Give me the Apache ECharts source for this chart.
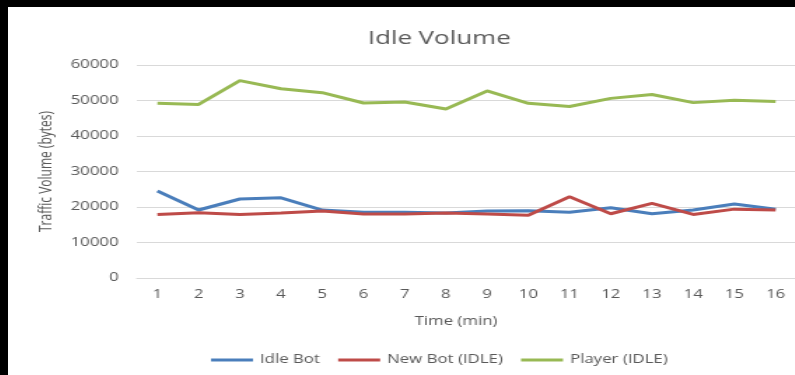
<!DOCTYPE html>
<html>
<head>
<meta charset="utf-8">
<script src="https://cdn.jsdelivr.net/npm/echarts@6/dist/echarts.min.js"></script>
<style>
  html, body { margin: 0; padding: 0; background: #000; overflow: hidden; }
  body { width: 795px; height: 375px; position: relative; }
  /* chart is drawn at a narrower width and widened horizontally */
  #chart {
    position: absolute; left: 8px; top: 7px;
    width: 563px; height: 368px;
    transform: scaleX(1.4); transform-origin: 0 0;
  }
</style>
</head>
<body>
<div id="chart"></div>
<script>
// Time in minutes
const minutes = ['1','2','3','4','5','6','7','8','9','10','11','12','13','14','15','16'];

// Traffic volume in bytes per minute
const idleBot = [24500, 19150, 22250, 22600, 19150, 18500, 18500, 18300, 18900, 18950, 18500, 19800, 18100, 19150, 20850, 19350];
const newBotIdle = [17900, 18400, 17900, 18300, 18900, 18000, 18000, 18300, 18000, 17650, 22900, 18100, 21000, 17900, 19400, 19150];
const playerIdle = [49200, 48900, 55600, 53300, 52200, 49300, 49600, 47600, 52700, 49200, 48300, 50600, 51700, 49400, 50100, 49700];

const seriesNames = ['Idle Bot', 'New Bot (IDLE)', 'Player (IDLE)'];
const seriesColors = ['#4a7ebb', '#be4b48', '#98b954'];

const yTicks = { min: 0, max: 60000, step: 10000 };

const textColor = '#595959';
const font = 'Open Sans';

const chart = echarts.init(document.getElementById('chart'), null, { renderer: 'canvas' });

function lineSeries(name, data, color) {
  return {
    name: name,
    type: 'line',
    data: data,
    symbol: 'none',
    smooth: false,
    lineStyle: { color: color, width: 3 },
    itemStyle: { color: color },
    emphasis: { disabled: true }
  };
}

chart.setOption({
  animation: false,
  backgroundColor: '#ffffff',
  title: {
    text: 'Idle Volume',
    left: 303,
    top: 17,
    textAlign: 'center',
    textStyle: { fontFamily: font, fontSize: 18.5, fontWeight: 'normal', color: textColor }
  },
  legend: {
    data: seriesNames,
    left: 140,
    top: 342,
    icon: 'rect',
    itemWidth: 30,
    itemHeight: 3,
    itemGap: 13,
    textStyle: { fontFamily: font, fontSize: 12, color: textColor }
  },
  grid: { left: 92, top: 58, width: 474, height: 213, containLabel: false },
  xAxis: {
    type: 'category',
    data: minutes,
    boundaryGap: true,
    name: 'Time (min)',
    nameLocation: 'middle',
    nameGap: 38,
    nameTextStyle: { fontFamily: font, fontSize: 12, color: textColor, padding: [0, 15, 0, 0] },
    axisLine: { show: true, lineStyle: { color: '#d9d9d9', width: 1 } },
    axisTick: { show: false },
    axisLabel: { fontFamily: font, fontSize: 12, color: textColor, margin: 11 },
    splitLine: { show: false }
  },
  yAxis: {
    type: 'value',
    min: yTicks.min,
    max: yTicks.max,
    interval: yTicks.step,
    name: 'Traffic Volume (bytes)',
    nameLocation: 'middle',
    nameRotate: 90,
    nameGap: 54,
    nameTextStyle: { fontFamily: font, fontSize: 12, color: textColor },
    axisLine: { show: false },
    axisTick: { show: false },
    axisLabel: {
      fontFamily: font, fontSize: 12, color: textColor, margin: 13,
      formatter: function (v) { return String(v); }
    },
    splitLine: { show: true, lineStyle: { color: '#d9d9d9', width: 1 } }
  },
  series: [
    lineSeries(seriesNames[0], idleBot, seriesColors[0]),
    lineSeries(seriesNames[1], newBotIdle, seriesColors[1]),
    lineSeries(seriesNames[2], playerIdle, seriesColors[2])
  ]
});
</script>
</body>
</html>
